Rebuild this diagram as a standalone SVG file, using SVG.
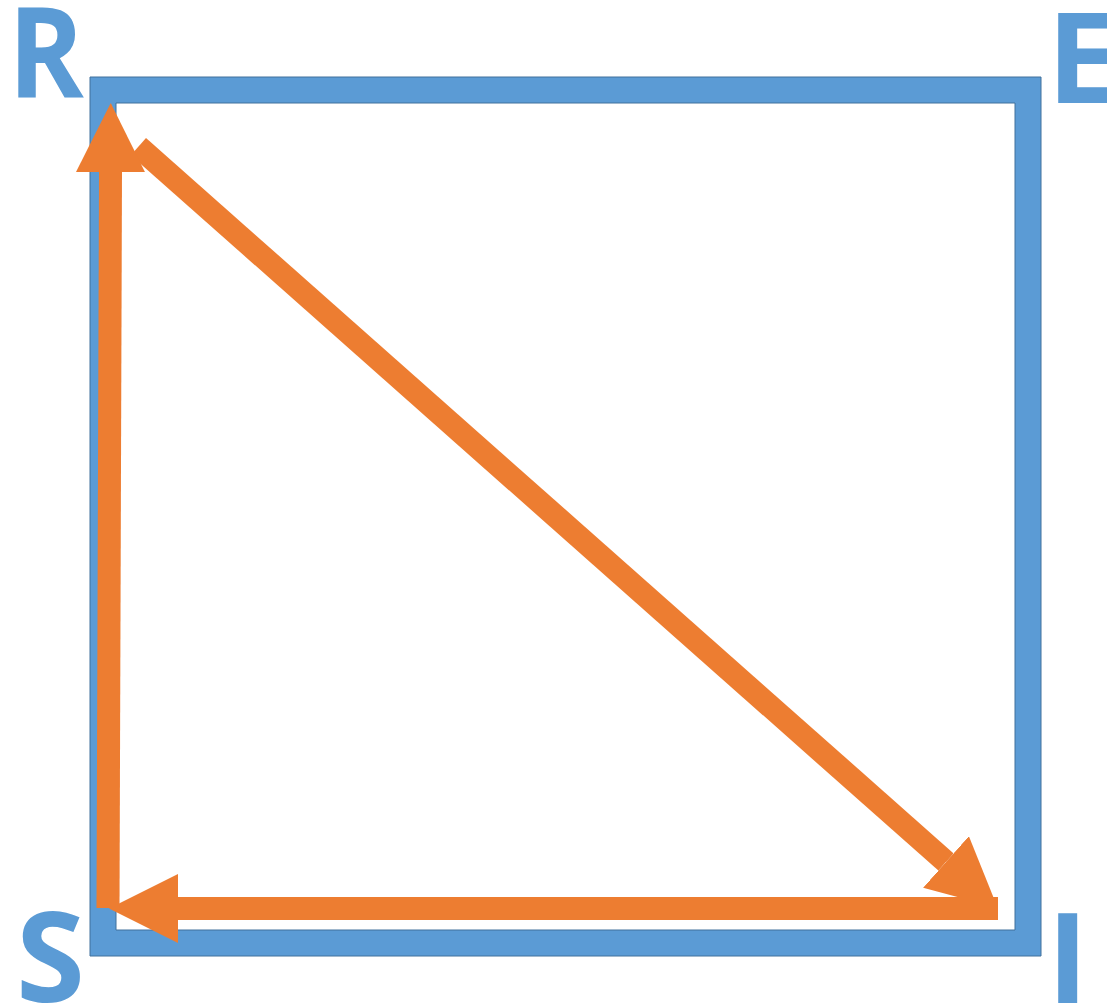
<svg xmlns="http://www.w3.org/2000/svg" width="1107" height="1005" viewBox="0 0 1107 1005">
  <style>
    .frame { fill: #5B9BD5; stroke: #41719C; stroke-width: 1; fill-rule: evenodd; }
    .label { fill: #5B9BD5; font-family: "Open Sans", "Liberation Sans", sans-serif; font-weight: 700; font-size: 125px; }
    .arrow { stroke: #ED7D31; stroke-width: 23; fill: none; stroke-linecap: butt; marker-end: url(#head); }
  </style>
  <defs>
    <marker id="head" viewBox="0 0 3 3" refX="0" refY="1.5" markerWidth="3" markerHeight="3" orient="auto" markerUnits="strokeWidth">
      <path d="M0,0 L3,1.5 L0,3 Z" fill="#ED7D31"/>
    </marker>
  </defs>
  <rect width="1107" height="1005" fill="#FFFFFF"/>
  <g id="frame">
    <path class="frame" d="M90,77 H1041 V956 H90 Z M116,103 V930 H1015 V103 Z"/>
  </g>
  <g id="node-R"><text class="label" x="7" y="97" transform="translate(1.5,0) scale(0.92,1)">R</text></g>
  <g id="node-E"><text class="label" x="1047" y="103">E</text></g>
  <g id="node-S"><text class="label" x="16" y="1002">S</text></g>
  <g id="node-I"><text class="label" x="1047" y="1003">I</text></g>
  <g id="connectors">
    <line class="arrow" x1="138.4" y1="146.6" x2="946" y2="862"/>
    <line class="arrow" x1="998" y1="908.5" x2="178" y2="908.5"/>
    <line class="arrow" x1="108" y1="908" x2="110.5" y2="172"/>
  </g>
</svg>
